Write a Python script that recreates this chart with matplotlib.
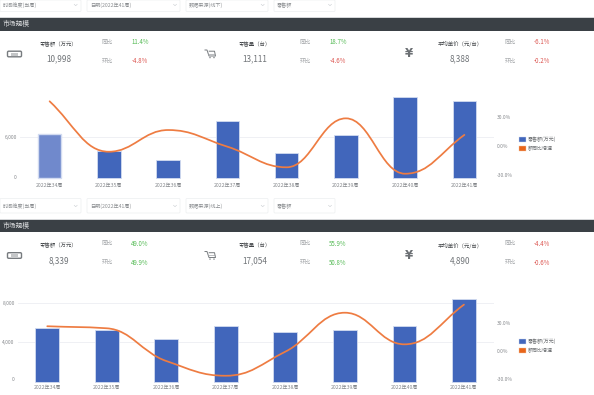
import matplotlib
matplotlib.use("Agg")
import matplotlib.pyplot as plt
from matplotlib.path import Path
from matplotlib.patches import PathPatch, Rectangle, FancyBboxPatch, Patch, Circle
from matplotlib.transforms import ScaledTranslation
import numpy as np

plt.rcParams['font.family'] = ['Noto Sans CJK SC', 'DejaVu Sans']

W, H = 594, 395
weeks = ['2022年34周', '2022年35周', '2022年36周', '2022年37周',
         '2022年38周', '2022年39周', '2022年40周', '2022年41周']

sales_offline = [6442, 4024, 2609, 8402, 3641, 6382, 11984, 11394]
growth_offline = [45.9, -5.9, 16.4, -0.7, -21.9, 28.4, -28.5, 11.4]
sales_online = [5434, 5272, 4363, 5676, 5030, 5202, 5636, 8339]
growth_online = [26.7, 24.5, -10.8, -26.7, -0.7, 41.3, 7.2, 50.0]

filters_offline = ['时间维度(当周)', '日期(2022年41周)', '数据来源(线下)', '零售额']
filters_online = ['时间维度(当周)', '日期(2022年41周)', '数据来源(线上)', '零售额']
kpi_labels = ['零售额（万元）', '零售量（台）', '平均单价（元/台）']
kpi_offline = ['10,998', '13,111', '8,388']
kpi_online = ['8,339', '17,054', '4,890']
yoy_offline = ['11.4%', '18.7%', '-6.1%']
mom_offline = ['-4.8%', '-4.6%', '-0.2%']
yoy_online = ['49.0%', '55.9%', '-4.4%']
mom_online = ['49.9%', '50.8%', '-0.6%']

BAR = '#4166bb'
LINE = '#ee7c42'
GREEN = '#55bb55'
RED = '#dc5550'

fig = plt.figure(figsize=(W / 100, H / 100), dpi=100, facecolor='white')
bg = fig.add_axes([0, 0, 1, 1], zorder=0)
bg.set_xlim(0, W)
bg.set_ylim(H, 0)
bg.axis('off')


def pct_color(s):
    return RED if s.startswith('-') else GREEN


def draw_panel(y0, y_filter, filters, kpis, yoy, mom):
    boxes = [(0, 81), (87, 180), (186, 268), (274, 335)]
    chev = [75.7, 175, 262.7, 330]
    for (a, b), c, t in zip(boxes, chev, filters):
        bg.add_patch(FancyBboxPatch((a, y_filter[0]), b - a, y_filter[1] - y_filter[0],
                                    boxstyle='round,pad=0,rounding_size=1',
                                    fc='white', ec='#eceef0', lw=0.5))
        bg.text(a + 3, y_filter[2], t, fontsize=3.7, color='#8a8d90', va='center', ha='left')
        bg.plot([c - 1.5, c, c + 1.5], [y_filter[2] - 0.7, y_filter[2] + 0.7, y_filter[2] - 0.7],
                color='#c8ccd0', lw=0.4)
    bg.add_patch(Rectangle((0, y0 - 1), W, 1, fc='#d4d6d8', ec='none'))
    bg.add_patch(Rectangle((0, y0), W, 12.5, fc='#3a4045', ec='none'))
    bg.text(3, y0 + 6.2, '市场规模', fontsize=4.9, color='#d8dadc', va='center', ha='left')

    yl, yv = y0 + 26.3, y0 + 41
    y1, y2 = y0 + 24.3, y0 + 43.3
    label_x = [59, 255, 460]
    tag_x = [107.5, 305, 510]
    pct_x = [140, 338, 541.5]
    for i in range(3):
        bg.text(label_x[i], yl, kpi_labels[i], fontsize=3.9, color='#44474a',
                ha='center', va='center')
        bg.text(label_x[i], yv, kpis[i], fontsize=5.9, color='#707478', ha='center', va='center')
        bg.text(tag_x[i], y1, '同比', fontsize=4.1, color='#a0a3a6', ha='center', va='center')
        bg.text(tag_x[i], y2, '环比', fontsize=4.1, color='#a0a3a6', ha='center', va='center')
        bg.text(pct_x[i], y1, yoy[i], fontsize=4.4, color=pct_color(yoy[i]), ha='center', va='center')
        bg.text(pct_x[i], y2, mom[i], fontsize=4.4, color=pct_color(mom[i]), ha='center', va='center')

    yi = y0 + 36
    bg.add_patch(FancyBboxPatch((7.5, yi - 2.8), 14, 5.6, boxstyle='round,pad=0,rounding_size=1.2',
                                fc='white', ec='#777b7f', lw=1.0))
    bg.add_patch(Rectangle((11, yi - 1.5), 7, 3, fc='#c4c6c8', ec='none'))
    bg.plot([205, 207, 209, 215.5, 214.5, 209.2], [yi - 4, yi - 4, yi + 2, yi + 2, yi - 2.8, yi - 2.8],
            color='#777b7f', lw=0.7)
    bg.plot([207.5, 215], [yi - 0.5, yi - 0.5], color='#a0a3a6', lw=0.5)
    for cx in (210, 214):
        bg.add_patch(Circle((cx, yi + 3.6), 0.7, fc='#777b7f', ec='none'))
    bg.text(409, yi - 0.3, '¥', fontsize=8.5, fontweight='bold', color='#6c7074', ha='center', va='center',
            family=['DejaVu Sans'])


draw_panel(18, (0, 11.5, 5), filters_offline, kpi_offline, yoy_offline, mom_offline)
draw_panel(219.5, (198.5, 213, 206), filters_online, kpi_online, yoy_online, mom_online)


def smooth_path(x, y):
    x = np.asarray(x, float)
    y = np.asarray(y, float)
    m = np.zeros(len(x))
    m[0] = (y[1] - y[0]) / (x[1] - x[0]) * 1.1
    m[-1] = (y[-1] - y[-2]) / (x[-1] - x[-2]) * 1.1
    for i in range(1, len(x) - 1):
        a, b = y[i] - y[i - 1], y[i + 1] - y[i]
        m[i] = 0 if a * b <= 0 else 2 * a * b / (a + b)
    verts = [(x[0], y[0])]
    codes = [Path.MOVETO]
    for i in range(len(x) - 1):
        h = (x[i + 1] - x[i]) / 2.4
        verts += [(x[i] + h, y[i] + m[i] * h), (x[i + 1] - h, y[i + 1] - m[i + 1] * h), (x[i + 1], y[i + 1])]
        codes += [Path.CURVE4] * 3
    return Path(verts, codes)


def px_axes(l, r, t, b):
    return fig.add_axes([l / W, 1 - b / H, (r - l) / W, (b - t) / H], zorder=2, facecolor='none')


def draw_chart(box, ymax, yticks, ylabels, rlim, sales, growth, x_pad, left_pad, highlight, zero_shift, leg_y):
    ax = px_axes(*box)
    x = np.arange(len(weeks))
    ax.set_xlim(-0.5, len(weeks) - 0.5)
    ax.set_ylim(0, ymax)
    bars = ax.bar(x, sales, width=0.4, color=BAR, edgecolor='#d2dbf0', linewidth=0.6,
                  clip_on=False, zorder=3)
    if highlight:
        bars[0].set_facecolor('#7089cc')
        bars[0].set_linewidth(1.0)
    ax.set_xticks(x, weeks)
    ax.set_yticks(yticks, ylabels)
    ax.tick_params(axis='x', length=0, pad=x_pad, labelsize=3.7, labelcolor='#85888c')
    ax.tick_params(axis='y', length=0, pad=left_pad, labelsize=3.5, labelcolor='#85888c')
    ax.grid(axis='y', color='#eceef2', lw=0.6, zorder=0)
    ax.set_axisbelow(True)
    ax.yaxis.get_gridlines()[0].set_visible(False)
    ax.xaxis.grid(False)
    for s in ax.spines.values():
        s.set_visible(False)
    lab0 = ax.yaxis.get_ticklabels()[0]
    lab0.set_transform(lab0.get_transform() + ScaledTranslation(0, zero_shift / 100, fig.dpi_scale_trans))

    tw = ax.twinx()
    tw.set_facecolor('none')
    tw.set_ylim(*rlim)
    tw.set_yticks([-30, 0, 30], ['-30.0%', '0.0%', '30.0%'])
    tw.tick_params(axis='y', length=0, pad=2.2, labelsize=3.5, labelcolor='#85888c')
    for s in tw.spines.values():
        s.set_visible(False)
    tw.add_patch(PathPatch(smooth_path(x, growth), fc='none', ec=LINE, lw=1.25,
                           capstyle='round', clip_on=False, zorder=5))

    handles = [Patch(fc=BAR, ec='#d2dbf0', lw=0.3, label='零售额(万元)'),
               Patch(fc='#e8651a', ec='#f4c8a8', lw=0.3, label='额同比增速')]
    leg = fig.legend(handles=handles, loc='upper left', bbox_to_anchor=(519 / W, 1 - leg_y / H),
                     frameon=False, fontsize=3.6, labelcolor='#6a6d70', borderpad=0, borderaxespad=0,
                     handlelength=1.4, handleheight=1.2, handletextpad=0.4, labelspacing=0.75)
    leg.set_zorder(4)


draw_chart((20, 494, 96.6, 178), 12000, [0, 6000], ['0', '6,000'], (-32.9, 50.75),
           sales_offline, growth_offline, 3.4, 2.2, True, 1.3, 136.5)
draw_chart((17.5, 493.7, 302.7, 381.5), 8000, [0, 4000, 8000], ['0', '4,000', '8,000'], (-32.9, 52.1),
           sales_online, growth_online, 2.4, 2.0, False, 2.4, 338.5)

fig.savefig('out.png', dpi=100)
